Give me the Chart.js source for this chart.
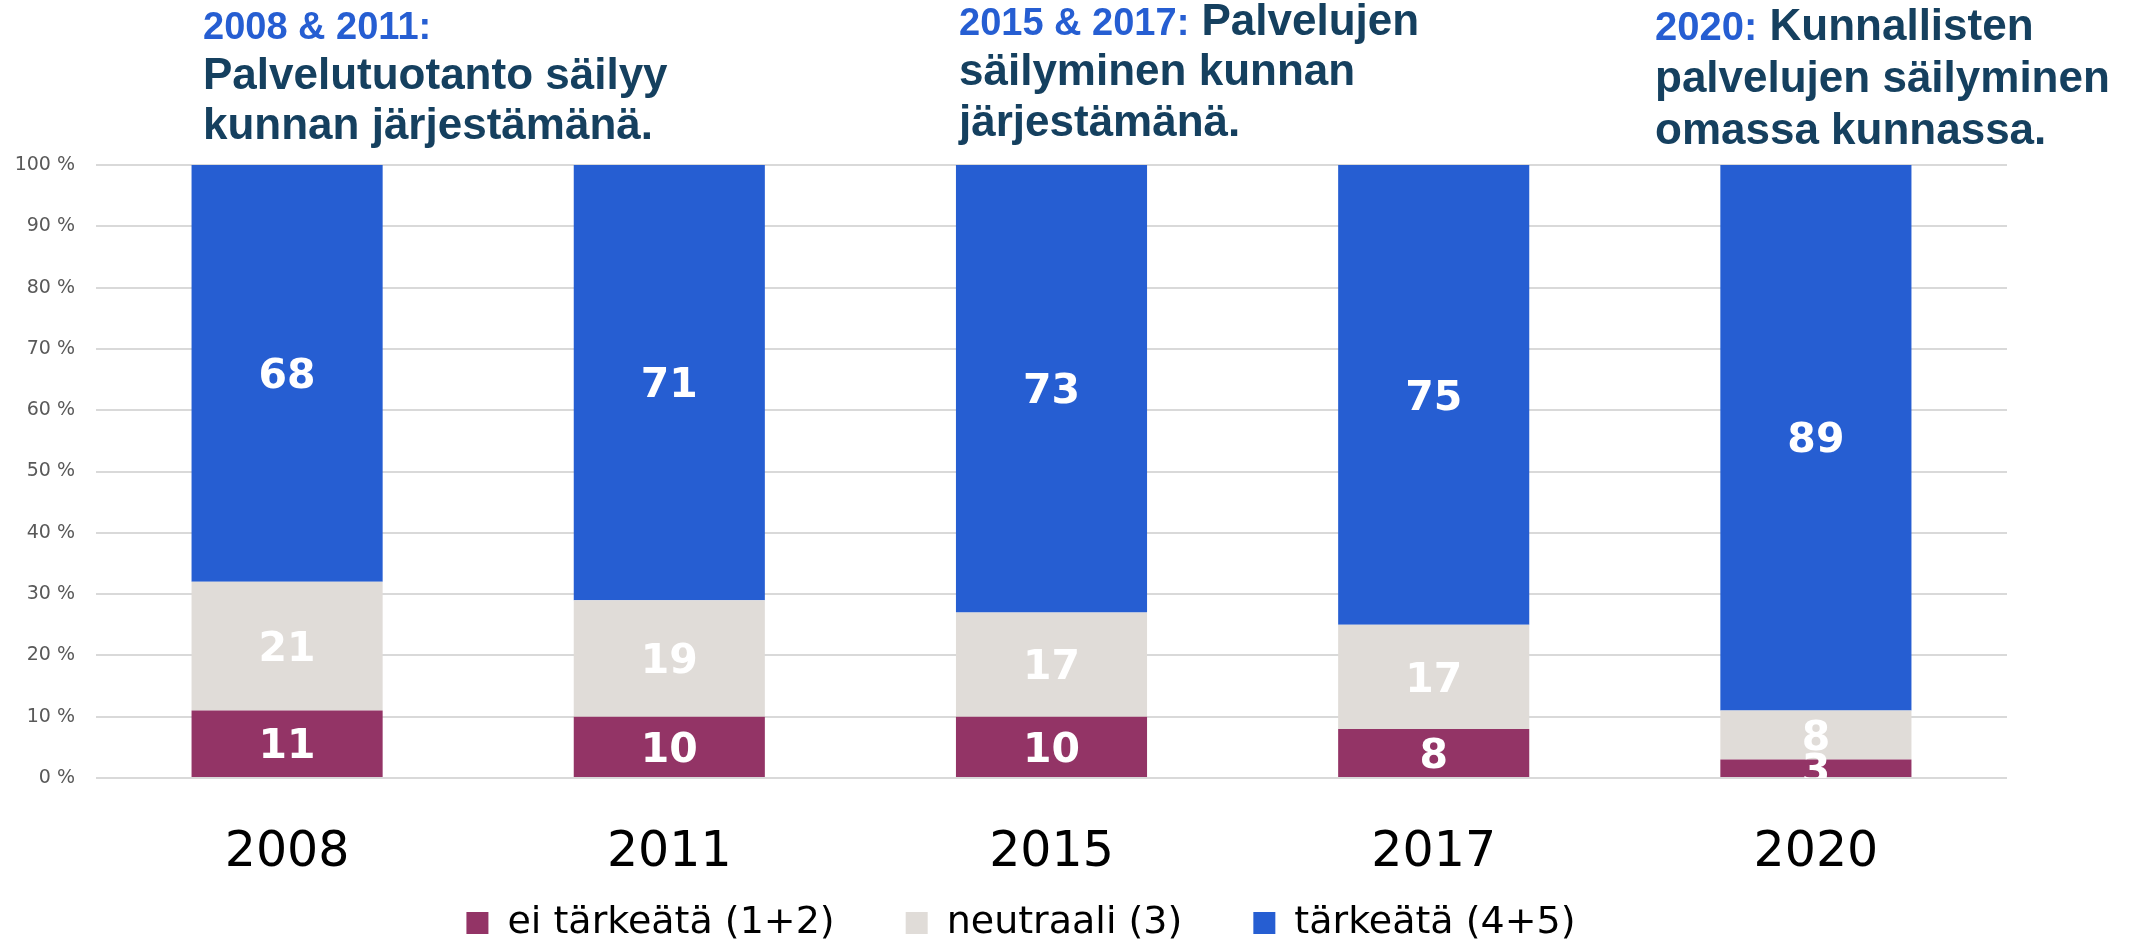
<!DOCTYPE html>
<html lang="fi">
<head>
<meta charset="utf-8">
<title>Palvelujen säilyminen kunnan järjestämänä</title>
<script src="https://cdn.jsdelivr.net/npm/chart.js@4.4.1/dist/chart.umd.min.js"></script>
<style>
  html, body { margin: 0; padding: 0; background: #fff; }
  canvas { display: block; }
</style>
</head>
<body>
<canvas id="chart" width="2139" height="943"></canvas>
<script>
const years = ["2008", "2011", "2015", "2017", "2020"];
const seriesLabels = ["ei tärkeätä (1+2)", "neutraali (3)", "tärkeätä (4+5)"];
const notImportant = [11, 10, 10, 8, 3];
const neutral = [21, 19, 17, 17, 8];
const important = [68, 71, 73, 75, 89];
const yTicks = [0, 10, 20, 30, 40, 50, 60, 70, 80, 90, 100];

const noteYears = ["2008 & 2011:", "2015 & 2017:", "2020:"];
const noteText = [
  ["", "Palvelutuotanto säilyy", "kunnan järjestämänä."],
  [" Palvelujen", "säilyminen kunnan", "järjestämänä."],
  [" Kunnallisten", "palvelujen säilyminen", "omassa kunnassa."],
];

const COLORS = {
  purple: "#933466",
  grey: "#e0dcd8",
  blue: "#265ed2",
  navy: "#15405f",
};

Chart.defaults.font.family = "'DejaVu Sans', sans-serif";

// white numbers in the middle of each segment, clipped to the plot
const valueLabels = {
  id: "valueLabels",
  afterDatasetsDraw(chart) {
    const { ctx, chartArea } = chart;
    ctx.save();
    ctx.beginPath();
    ctx.rect(chartArea.left, chartArea.top, chartArea.right - chartArea.left, chartArea.bottom - chartArea.top);
    ctx.clip();
    ctx.font = "bold 41px 'DejaVu Sans'";
    ctx.fillStyle = "#ffffff";
    ctx.textAlign = "center";
    ctx.textBaseline = "middle";
    chart.data.datasets.forEach((dataset, i) => {
      chart.getDatasetMeta(i).data.forEach((bar, j) => {
        const { x, y, base } = bar.getProps(["x", "y", "base"], true);
        ctx.fillText(String(dataset.data[j]), x, (y + base) / 2 + 4);
      });
    });
    ctx.restore();
  },
};

// headline notes above the bars
const notes = {
  id: "notes",
  afterDraw(chart) {
    const { ctx } = chart;
    const left = [203, 959, 1655];
    const baselines = [[39, 89, 139], [35, 85, 136], [40, 92, 144]];
    const yearSize = [38, 38, 40];
    ctx.save();
    ctx.textAlign = "left";
    ctx.textBaseline = "alphabetic";
    noteYears.forEach((year, i) => {
      ctx.font = `bold ${yearSize[i]}px 'Liberation Sans'`;
      ctx.fillStyle = COLORS.blue;
      ctx.fillText(year, left[i], baselines[i][0]);
      const offset = ctx.measureText(year).width;
      ctx.font = "bold 44px 'Liberation Sans'";
      ctx.fillStyle = COLORS.navy;
      noteText[i].forEach((line, k) => {
        if (!line) return;
        ctx.fillText(line, k === 0 ? left[i] + offset : left[i], baselines[i][k]);
      });
    });
    ctx.restore();
  },
};

// tick labels are clipped to their scale box; let them spill out
const openTickArea = {
  id: "openTickArea",
  afterLayout(chart) {
    chart.scales.y.left = 0;
    chart.scales.x.bottom = chart.height;
  },
};

new Chart(document.getElementById("chart"), {
  type: "bar",
  data: {
    labels: years,
    datasets: [
      { label: seriesLabels[0], data: notImportant, backgroundColor: COLORS.purple },
      { label: seriesLabels[1], data: neutral, backgroundColor: COLORS.grey },
      { label: seriesLabels[2], data: important, backgroundColor: COLORS.blue },
    ],
  },
  options: {
    responsive: false,
    animation: false,
    datasets: {
      bar: { barPercentage: 0.5, categoryPercentage: 1, borderWidth: 0 },
    },
    layout: {
      padding: { top: 165, left: 35, right: 132, bottom: -9 },
    },
    scales: {
      x: {
        stacked: true,
        grid: { display: false },
        border: { display: false },
        ticks: { color: "#000000", font: { size: 49 }, padding: 38 },
        afterFit: (scale) => {
          scale.height = 55;
        },
      },
      y: {
        stacked: true,
        min: yTicks[0],
        max: yTicks[yTicks.length - 1],
        border: { display: false },
        grid: { color: "#d9d9d9", lineWidth: 2, drawTicks: false },
        ticks: {
          stepSize: yTicks[1] - yTicks[0],
          color: "#595959",
          font: { size: 19 },
          padding: 21,
          callback: (value) => `${value} %`,
        },
        afterFit: (scale) => {
          scale.width = 61;
        },
      },
    },
    plugins: {
      legend: {
        position: "bottom",
        labels: {
          boxWidth: 22,
          boxHeight: 22,
          padding: 71,
          color: "#000000",
          font: { size: 38 },
        },
      },
      tooltip: { enabled: false },
    },
  },
  plugins: [valueLabels, notes, openTickArea],
});
</script>
</body>
</html>
